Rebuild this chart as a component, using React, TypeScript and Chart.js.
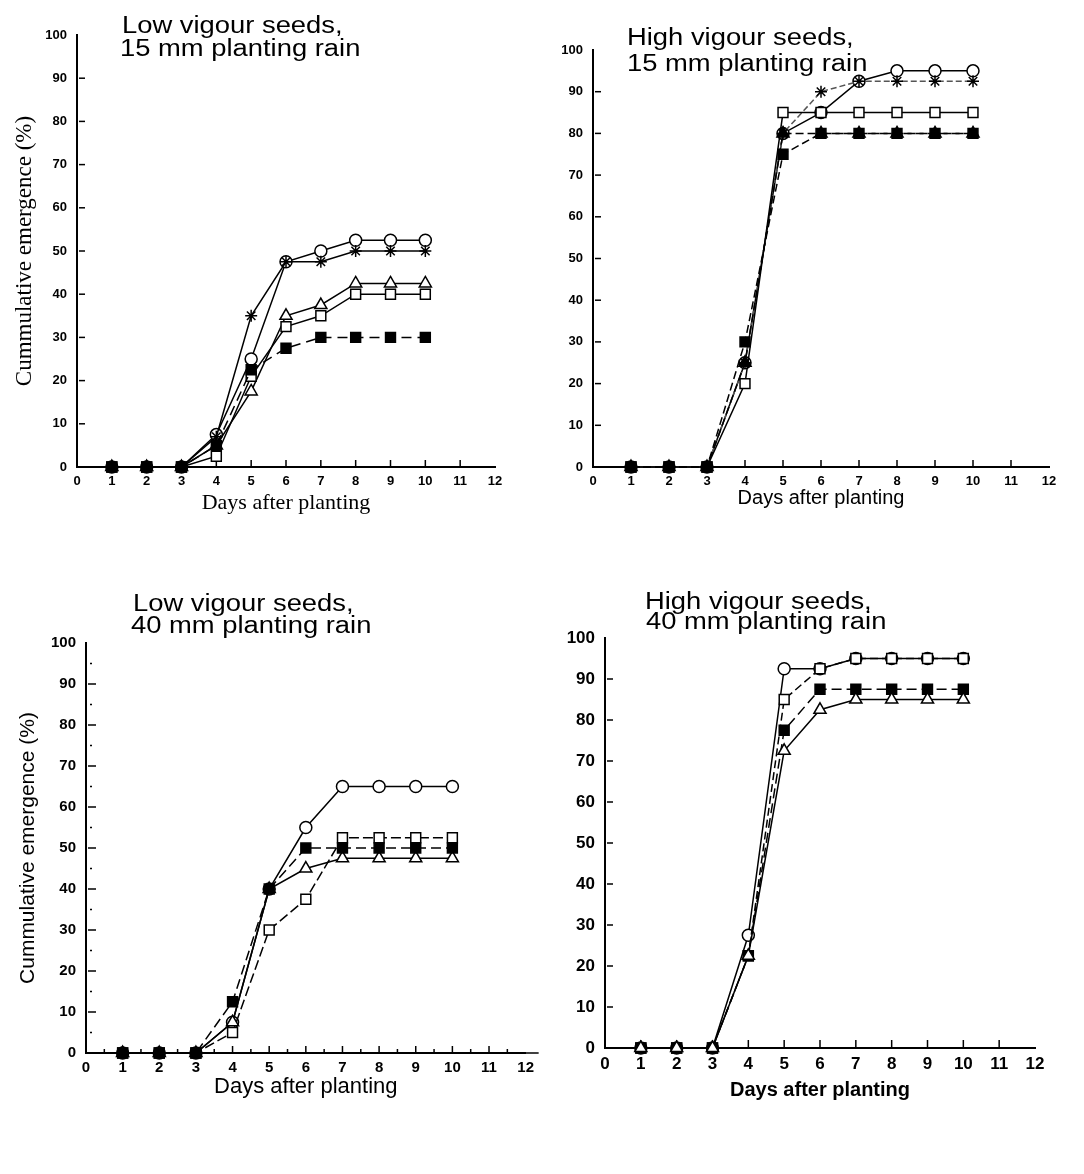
import React, { useEffect, useRef } from "react";
import { Chart, registerables } from "chart.js";

Chart.register(...registerables);

// ---------- data ----------
const days = [1, 2, 3, 4, 5, 6, 7, 8, 9, 10];
const xMin = 0;
const xMax = 12;
const yMin = 0;
const yMax = 100;
const yStep = 10;

// Low vigour seeds, 15 mm planting rain
const lv15Circle = [0, 0, 0, 7.5, 25, 47.5, 50, 52.5, 52.5, 52.5];
const lv15Star = [0, 0, 0, 7, 35, 47.5, 47.5, 50, 50, 50];
const lv15Triangle = [0, 0, 0, 5, 17.5, 35, 37.5, 42.5, 42.5, 42.5];
const lv15OpenSquare = [0, 0, 0, 2.5, 21, 32.5, 35, 40, 40, 40];
const lv15FilledSquare = [0, 0, 0, 5, 22.5, 27.5, 30, 30, 30, 30];

// High vigour seeds, 15 mm planting rain
const hv15Circle = [0, 0, 0, 25, 80, 85, 92.5, 95, 95, 95];
const hv15Star = [0, 0, 0, 25, 80, 90, 92.5, 92.5, 92.5, 92.5];
const hv15OpenSquare = [0, 0, 0, 20, 85, 85, 85, 85, 85, 85];
const hv15FilledTriangle = [0, 0, 0, 25, 80, 80, 80, 80, 80, 80];
const hv15FilledSquare = [0, 0, 0, 30, 75, 80, 80, 80, 80, 80];

// Low vigour seeds, 40 mm planting rain
const lv40Circle = [0, 0, 0, 7.5, 40, 55, 65, 65, 65, 65];
const lv40FilledSquare = [0, 0, 0, 12.5, 40, 50, 50, 50, 50, 50];
const lv40Triangle = [0, 0, 0, 7.5, 40, 45, 47.5, 47.5, 47.5, 47.5];
const lv40OpenSquare = [0, 0, 0, 5, 30, 37.5, 52.5, 52.5, 52.5, 52.5];

// High vigour seeds, 40 mm planting rain
const hv40Circle = [0, 0, 0, 27.5, 92.5, 92.5, 95, 95, 95, 95];
const hv40OpenSquare = [0, 0, 0, 22.5, 85, 92.5, 95, 95, 95, 95];
const hv40FilledSquare = [0, 0, 0, 22.5, 77.5, 87.5, 87.5, 87.5, 87.5, 87.5];
const hv40Triangle = [0, 0, 0, 22.5, 72.5, 82.5, 85, 85, 85, 85];

const titleLow15 = ["Low vigour seeds,", "15 mm planting rain"];
const titleHigh15 = ["High vigour seeds,", "15 mm planting rain"];
const titleLow40 = ["Low vigour seeds,", "40 mm planting rain"];
const titleHigh40 = ["High vigour seeds,", "40 mm planting rain"];
const yTitle = "Cummulative emergence (%)";
const xTitle = "Days after planting";

// ---------- styles ----------
type Marker = {
  values: number[];
  shape: string;
  filled: boolean;
  dash?: number[];
  radius?: number;
  lineColor?: string;
};

const SANS = "'Liberation Sans', Arial, sans-serif";
const SERIF = "'Liberation Serif', 'Times New Roman', serif";

const innerTicks = {
  id: "innerTicks",
  beforeDatasetsDraw(chart: any, _args: any, opts: any) {
    const { ctx, chartArea, scales } = chart;
    ctx.save();
    ctx.strokeStyle = "#000";
    ctx.lineWidth = 1.5;
    const line = (x1: number, y1: number, x2: number, y2: number) => {
      ctx.beginPath();
      ctx.moveTo(x1, y1);
      ctx.lineTo(x2, y2);
      ctx.stroke();
    };
    (opts.yMajor || []).forEach((v: number) => {
      const y = scales.y.getPixelForValue(v);
      line(chartArea.left + 2, y, chartArea.left + opts.yLen, y);
    });
    (opts.yMinor || []).forEach((v: number) => {
      const y = scales.y.getPixelForValue(v);
      line(chartArea.left + 4, y, chartArea.left + 6, y);
    });
    (opts.xMajor || []).forEach((v: number) => {
      const x = scales.x.getPixelForValue(v);
      line(x, chartArea.bottom, x, chartArea.bottom - opts.xLen);
    });
    (opts.xMinor || []).forEach((v: number) => {
      const x = scales.x.getPixelForValue(v);
      line(x, chartArea.bottom, x, chartArea.bottom - 4);
    });
    if (opts.extendRight) {
      line(chartArea.right, chartArea.bottom, chartArea.right + opts.extendRight, chartArea.bottom);
    }
    ctx.restore();
  },
};

type PanelCfg = {
  left: number;
  top: number;
  w: number;
  h: number;
  area: { l: number; t: number; r: number; b: number };
  tickFont: number;
  yTickPad: number;
  xTickPad: number;
  yTitle?: { text: string; family: string; size: number; weight?: string; center: number };
  xTitle: { text: string; family: string; size: number; weight?: string; center: number };
  series: Marker[];
  ticks: any;
};

const range = (a: number, b: number, s: number) => {
  const out: number[] = [];
  for (let v = a; v <= b + 1e-9; v += s) out.push(Math.round(v * 10) / 10);
  return out;
};

const panels: PanelCfg[] = [
  {
    left: 0,
    top: 0,
    w: 540,
    h: 570,
    area: { l: 77, t: 35, r: 495, b: 467 },
    tickFont: 13,
    yTickPad: 10,
    xTickPad: 7,
    yTitle: { text: yTitle, family: SERIF, size: 23, center: 25 },
    xTitle: { text: xTitle, family: SERIF, size: 22, center: 503 },
    series: [
      { values: lv15FilledSquare, shape: "rect", filled: true, dash: [10, 6], radius: 7 },
      { values: lv15OpenSquare, shape: "rect", filled: false, radius: 7 },
      { values: lv15Triangle, shape: "triangle", filled: false, radius: 7 },
      { values: lv15Star, shape: "star", filled: false },
      { values: lv15Circle, shape: "circle", filled: false },
    ],
    ticks: { yMajor: range(10, 90, 10), yLen: 8, xMajor: range(1, 11, 1), xLen: 7 },
  },
  {
    left: 540,
    top: 0,
    w: 544,
    h: 570,
    area: { l: 53, t: 50, r: 509, b: 467 },
    tickFont: 13,
    yTickPad: 10,
    xTickPad: 7,
    xTitle: { text: xTitle, family: SANS, size: 20, center: 498 },
    series: [
      { values: hv15FilledSquare, shape: "rect", filled: true, dash: [8, 4], radius: 7 },
      { values: hv15FilledTriangle, shape: "triangle", filled: true, dash: [8, 4], radius: 7 },
      { values: hv15OpenSquare, shape: "rect", filled: false, radius: 7 },
      { values: hv15Star, shape: "star", filled: false, dash: [6, 3], lineColor: "#555" },
      { values: hv15Circle, shape: "circle", filled: false },
    ],
    ticks: { yMajor: range(10, 90, 10), yLen: 8, xMajor: range(1, 11, 1), xLen: 7 },
  },
  {
    left: 0,
    top: 575,
    w: 540,
    h: 599,
    area: { l: 86, t: 68, r: 527, b: 478 },
    tickFont: 15,
    yTickPad: 10,
    xTickPad: 6,
    yTitle: { text: yTitle, family: SANS, size: 21, center: 28 },
    xTitle: { text: xTitle, family: SANS, size: 22, center: 512 },
    series: [
      { values: lv40FilledSquare, shape: "rect", filled: true, dash: [10, 5], radius: 7 },
      { values: lv40Triangle, shape: "triangle", filled: false, radius: 7 },
      { values: lv40OpenSquare, shape: "rect", filled: false, dash: [10, 4], radius: 7 },
      { values: lv40Circle, shape: "circle", filled: false },
    ],
    ticks: {
      yMajor: range(10, 90, 10),
      yMinor: range(5, 95, 10),
      yLen: 10,
      xMajor: range(1, 11, 1),
      xMinor: range(0.5, 11.5, 1),
      xLen: 7,
      extendRight: 13,
    },
  },
  {
    left: 540,
    top: 575,
    w: 544,
    h: 599,
    area: { l: 65, t: 63, r: 495, b: 473 },
    tickFont: 17,
    yTickPad: 10,
    xTickPad: 6,
    xTitle: { text: xTitle, family: SANS, size: 20, weight: "bold", center: 515 },
    series: [
      { values: hv40Triangle, shape: "triangle", filled: false, radius: 7 },
      { values: hv40FilledSquare, shape: "rect", filled: true, dash: [10, 5], radius: 7 },
      { values: hv40OpenSquare, shape: "rect", filled: false, dash: [8, 4], radius: 7 },
      { values: hv40Circle, shape: "circle", filled: false },
    ],
    ticks: { yMajor: range(10, 90, 10), yLen: 8, xMajor: range(1, 11, 1), xLen: 8 },
  },
];

function Panel({ cfg }: { cfg: PanelCfg }) {
  const ref = useRef<HTMLCanvasElement | null>(null);
  useEffect(() => {
    if (!ref.current) return;
    const { w, h, area } = cfg;
    const padBottomAbs = 0;
    const xTitleLH = cfg.xTitle.size * 1.2;
    const xTitlePad = h - xTitleLH / 2 - cfg.xTitle.center;
    const yTitleLH = cfg.yTitle ? cfg.yTitle.size * 1.2 : 0;
    const yTitlePad = cfg.yTitle ? cfg.yTitle.center - yTitleLH / 2 : 0;
    const tickFont = { family: SANS, size: cfg.tickFont, weight: "bold" as const };

    const chart = new Chart(ref.current, {
      type: "line",
      data: {
        datasets: cfg.series.map((s) => ({
          data: days.map((d, i) => ({ x: d, y: s.values[i] })),
          borderColor: s.lineColor || "#000",
          borderWidth: 1.5,
          borderDash: s.dash || [],
          pointStyle: s.shape as any,
          pointRadius: s.radius || 6,
          pointBorderWidth: 1.5,
          pointBorderColor: "#000",
          pointBackgroundColor: s.filled ? "#000" : "#fff",
          tension: 0,
          fill: false,
          clip: false as any,
        })),
      },
      options: {
        responsive: false,
        animation: false,
        devicePixelRatio: 1,
        layout: {
          padding: { left: 0, top: area.t, right: w - area.r, bottom: padBottomAbs },
        },
        plugins: {
          legend: { display: false },
          tooltip: { enabled: false },
          innerTicks: cfg.ticks,
        } as any,
        scales: {
          x: {
            type: "linear",
            min: xMin,
            max: xMax,
            ticks: {
              stepSize: 1,
              autoSkip: false,
              maxRotation: 0,
              color: "#000",
              padding: cfg.xTickPad,
              font: tickFont,
            },
            grid: { display: false, drawTicks: false },
            border: { display: true, color: "#000", width: 2 },
            title: {
              display: true,
              text: cfg.xTitle.text,
              color: "#000",
              font: { family: cfg.xTitle.family, size: cfg.xTitle.size, weight: (cfg.xTitle.weight || "normal") as any },
              padding: { top: 0, bottom: xTitlePad },
            },
            afterFit: (s: any) => {
              s.height = h - area.b - padBottomAbs;
            },
          },
          y: {
            type: "linear",
            min: yMin,
            max: yMax,
            ticks: {
              stepSize: yStep,
              autoSkip: false,
              color: "#000",
              padding: cfg.yTickPad,
              font: tickFont,
            },
            grid: { display: false, drawTicks: false },
            border: { display: true, color: "#000", width: 2 },
            title: cfg.yTitle
              ? {
                  display: true,
                  text: cfg.yTitle.text,
                  color: "#000",
                  font: { family: cfg.yTitle.family, size: cfg.yTitle.size },
                  padding: { top: yTitlePad, bottom: 0 },
                }
              : { display: false },
            afterFit: (s: any) => {
              s.width = area.l;
            },
          },
        },
      },
      plugins: [innerTicks],
    });
    return () => chart.destroy();
  }, [cfg]);

  return (
    <canvas
      ref={ref}
      width={cfg.w}
      height={cfg.h}
      style={{ position: "absolute", left: cfg.left, top: cfg.top, width: cfg.w, height: cfg.h }}
    />
  );
}

type TitleLine = { text: string; left: number; top: number };
const titleLines: TitleLine[] = [
  { text: titleLow15[0], left: 122, top: 14 },
  { text: titleLow15[1], left: 120, top: 37 },
  { text: titleHigh15[0], left: 627, top: 26 },
  { text: titleHigh15[1], left: 627, top: 52 },
  { text: titleLow40[0], left: 133, top: 592 },
  { text: titleLow40[1], left: 131, top: 614 },
  { text: titleHigh40[0], left: 645, top: 590 },
  { text: titleHigh40[1], left: 646, top: 610 },
];

export default function App() {
  return (
    <div
      style={{
        position: "absolute",
        left: 0,
        top: 0,
        width: 1084,
        height: 1174,
        background: "#fff",
        overflow: "hidden",
      }}
    >
      {panels.map((p, i) => (
        <Panel key={i} cfg={p} />
      ))}
      {titleLines.map((t, i) => (
        <div
          key={"t" + i}
          style={{
            position: "absolute",
            left: t.left,
            top: t.top,
            fontFamily: SANS,
            fontSize: 23,
            lineHeight: 1,
            whiteSpace: "nowrap",
            color: "#000",
            transform: "scaleX(1.19)",
            transformOrigin: "left top",
          }}
        >
          {t.text}
        </div>
      ))}
    </div>
  );
}
